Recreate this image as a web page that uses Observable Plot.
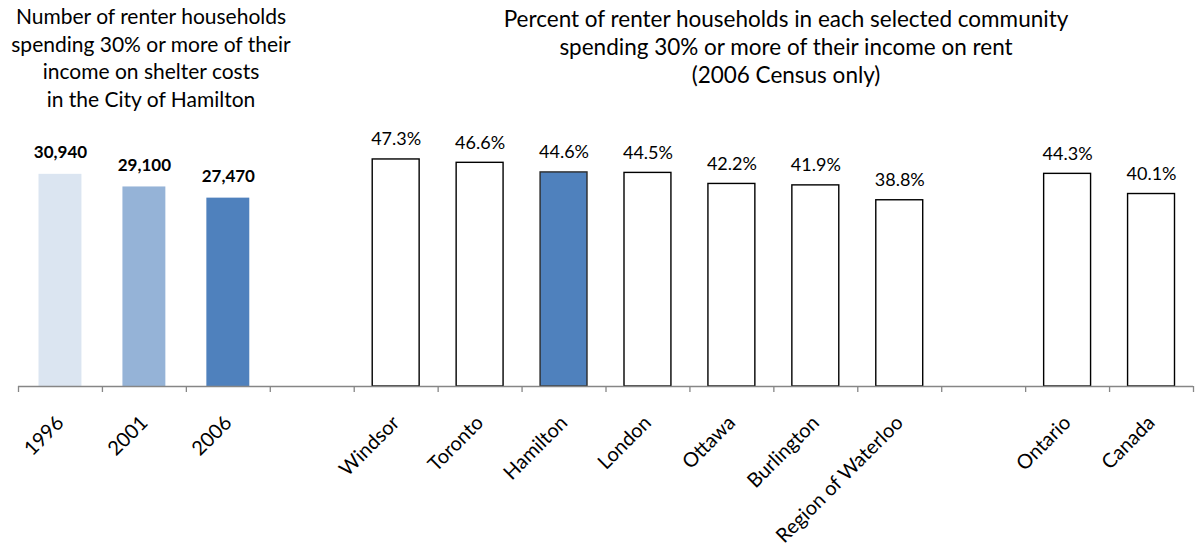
<!DOCTYPE html>
<html>
<head>
<meta charset="utf-8">
<script src="https://cdn.jsdelivr.net/npm/d3@7"></script>
<script src="https://cdn.jsdelivr.net/npm/@observablehq/plot@0.6"></script>
<style>
  html, body { margin: 0; padding: 0; background: #fff; }
  #wrap { position: relative; width: 1196px; height: 552px; font-family: Lato, "Open Sans", sans-serif; color: #000; }
  .title { position: absolute; text-align: center; white-space: nowrap; }
  #wrap svg { position: absolute; left: 0; top: 0; }
</style>
</head>
<body>
<div id="wrap">
  <div class="title" style="left:2px; width:298px; top:2px; font-size:21px; line-height:27.5px;">Number of renter households<br>spending 30% or more of their<br>income on shelter costs<br>in the City of Hamilton</div>
  <div class="title" style="left:486px; width:600px; top:5px; font-size:22.5px; line-height:28px;">Percent of renter households in each selected community<br>spending 30% or more of their income on rent<br>(2006 Census only)</div>
</div>
<script>
// ---- data ----
const years = ["1996", "2001", "2006"];
const yearCounts = [30940, 29100, 27470];
const yearColors = ["#dbe5f1", "#95b3d7", "#4f81bd"];

const communities = ["Windsor", "Toronto", "Hamilton", "London", "Ottawa", "Burlington", "Region of Waterloo"];
const communityPct = [47.3, 46.6, 44.6, 44.5, 42.2, 41.9, 38.8];

const regions = ["Ontario", "Canada"];
const regionPct = [44.3, 40.1];

const highlight = "Hamilton";
const gapA = "\u2009", gapB = "\u200A";
const slots = [...years, gapA, ...communities, gapB, ...regions];

// ---- tables built from the arrays ----
const yearData = years.map((k, i) => ({k, v: yearCounts[i], c: yearColors[i]}));
const pctData = [...communities.map((k, i) => ({k, v: communityPct[i]})),
                 ...regions.map((k, i) => ({k, v: regionPct[i]}))];

const W = 1196, H = 552;
const common = {
  width: W, height: H,
  marginLeft: 18, marginRight: 3, marginTop: 146, marginBottom: 166,
};
const fmtCount = d3.format(",");
const half = (W - 18 - 3) / slots.length / 2;

// Left panel: counts (own y scale)
const left = Plot.plot({
  ...common,
  style: {fontFamily: "Lato, sans-serif", background: "transparent"},
  x: {domain: slots, padding: 0, round: false, axis: null},
  y: {domain: [0, 35000], axis: null},
  marks: [
    Plot.barY(yearData, {x: "k", y: "v", fill: "c", insetLeft: 20.5, insetRight: 20.5}),
    Plot.text(yearData, {x: "k", y: "v", text: d => fmtCount(d.v), lineAnchor: "bottom", dy: -16,
      fontSize: 17, fontWeight: "bold", fill: "#000"})
  ]
});

// Right panel: percentages (own y scale) + shared axis
const right = Plot.plot({
  ...common,
  style: {fontFamily: "Lato, sans-serif", background: "transparent"},
  x: {domain: slots, padding: 0, round: false},
  y: {domain: [0, 50], axis: null},
  marks: [
    Plot.barY(pctData, {x: "k", y: "v", fill: d => d.k === highlight ? "#4f81bd" : "#fff",
      stroke: d => d.k === highlight ? "#2b2b2b" : "#000", strokeWidth: 1.4, insetLeft: 18.5, insetRight: 18.5}),
    Plot.text(pctData, {x: "k", y: "v", text: d => d.v.toFixed(1) + "%", lineAnchor: "bottom", dy: -14,
      fontSize: 18, fontWeight: d => d.k === highlight ? "bold" : "normal", fill: "#000"}),
    Plot.ruleY([0], {stroke: "#868686", strokeWidth: 1.5}),
    Plot.axisX(slots, {tickSize: 6, tickFormat: () => "", label: null, dx: -half, stroke: "#868686", strokeWidth: 1.3}),
    Plot.axisX([slots[slots.length - 1]], {tickSize: 6, tickFormat: () => "", label: null, dx: half, stroke: "#868686", strokeWidth: 1.3}),
    Plot.axisX(slots, {tickSize: 0, tickRotate: -45, tickPadding: 33, dx: 0, fontSize: 20, fill: "#000", label: null,
      tickFormat: d => (d === gapA || d === gapB) ? "" : d})
  ]
});

const wrap = document.getElementById("wrap");
wrap.appendChild(left);
wrap.appendChild(right);
</script>
</body>
</html>
